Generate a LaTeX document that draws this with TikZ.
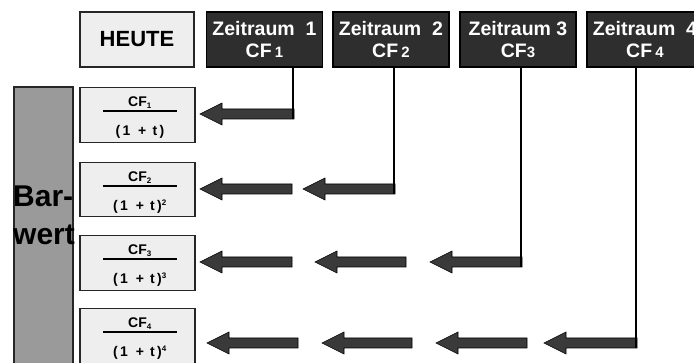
\documentclass[tikz,border=0pt]{standalone}
\usepackage{fontspec}
\setmainfont{Liberation Sans}
\definecolor{darkbox}{HTML}{2E2E2E}
\definecolor{lightbox}{HTML}{EEEEEE}
\definecolor{barfill}{HTML}{9A9A9A}
\definecolor{arrowfill}{HTML}{3A3A3A}
\begin{document}
\begin{tikzpicture}[x=1pt,y=-1pt,
  lightnode/.style={draw=black!85, line width=1.4pt, fill=lightbox, minimum width=114pt, minimum height=55pt, inner sep=0pt},
  darknode/.style={draw=black, line width=1.4pt, fill=darkbox, minimum width=116pt, minimum height=55pt, inner sep=0pt, text=white, align=center, font=\bfseries\fontsize{19.5}{22}\selectfont},
  fracnode/.style={lightnode, minimum width=115pt},
  fractext/.style={inner sep=0pt, font=\bfseries\fontsize{14}{15}\selectfont},
  vline/.style={draw=black, line width=1.8pt},
  arrowst/.style={fill=arrowfill, draw=black, line width=0.6pt, line join=miter}]
\useasboundingbox (0,0) rectangle (694,363);
\clip (0,0) rectangle (694,363);
% header
\node[lightnode, font=\bfseries\fontsize{22}{24}\selectfont] (heute) at (137,39.5) {HEUTE};
\node[darknode] (z1) at (264.5,39.5) {Zeitraum\ \ 1\\CF\,{\fontsize{15}{15}\selectfont 1}};
\node[darknode] (z2) at (391,39.5) {Zeitraum\ \ 2\\CF\,{\fontsize{15}{15}\selectfont 2}};
\node[darknode] (z3) at (518,39.5) {Zeitraum 3\\CF{\fontsize{15}{15}\selectfont 3}};
\node[darknode] (z4) at (645,39.5) {Zeitraum\ \ 4\\CF\,{\fontsize{15}{15}\selectfont 4}};
% Barwert bar
\path[draw=black!85, line width=1.4pt, fill=barfill] (14,87) rectangle (73,380);
\node[anchor=base west, inner sep=0pt, font=\bfseries\fontsize{30}{32}\selectfont] (bar) at (13,207) {Bar-};
\node[anchor=base west, inner sep=0pt, font=\bfseries\fontsize{30}{32}\selectfont] (wert) at (13,245) {wert};
% fraction boxes
\newcommand\fracbox[4]{%
  \node[fracnode, minimum height=#4pt, anchor=north] (f#2) at (137.5,#1) {};
  \node[fractext] (cf#2) at (140,#1+16) {CF\textsubscript{\fontsize{8}{8}\selectfont #2}};
  \draw[line width=1.4pt] (103,#1+24) -- (177,#1+24);
  \node[fractext] (den#2) at (140,#1+45) {(\,1\ \ +\ \,t\,)#3};
}
\fracbox{87}{1}{}{55}
\fracbox{162}{2}{\textsuperscript{\fontsize{8}{8}\selectfont 2}}{54}
\fracbox{235}{3}{\textsuperscript{\fontsize{8}{8}\selectfont 3}}{55}
\fracbox{308}{4}{\textsuperscript{\fontsize{8}{8}\selectfont 4}}{62}
% arrows
\newcommand\barrow[4]{%
  \coordinate (#4) at (#2,#3);
  \filldraw[arrowst] (#1,#3) -- (#1+22,#3-11) -- (#1+22,#3-5) -- (#2,#3-5) -- (#2,#3+5) -- (#1+22,#3+5) -- (#1+22,#3+11) -- cycle;
}
\barrow{200}{294}{114}{a11}
\barrow{200}{292}{189}{a21}
\barrow{303}{395}{189}{a22}
\barrow{200}{292}{262}{a31}
\barrow{315}{406}{262}{a32}
\barrow{430}{522}{262}{a33}
\barrow{207}{298}{343}{a41}
\barrow{322}{412}{343}{a42}
\barrow{436}{527}{343}{a43}
\barrow{544}{637}{343}{a44}
% vertical connectors
\draw[vline] (z1.south -| 293,0) -- (293,119);
\draw[vline] (z2.south -| 394,0) -- (394,194);
\draw[vline] (z3.south -| 521,0) -- (521,267);
\draw[vline] (z4.south -| 636,0) -- (636,348);
\end{tikzpicture}
\end{document}
